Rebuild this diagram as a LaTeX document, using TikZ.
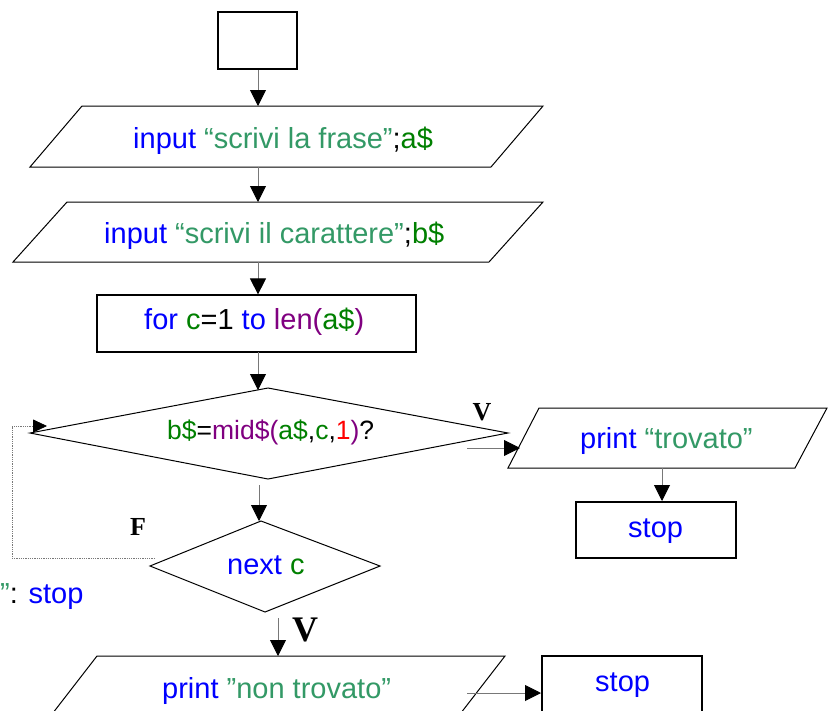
\documentclass[tikz,border=0pt]{standalone}
\usepackage{fontspec}
\setmainfont{Liberation Sans}
\newfontfamily\labelserif{Liberation Serif}
\usetikzlibrary{arrows.meta}

\definecolor{kwblue}{RGB}{0,0,255}
\definecolor{vargreen}{RGB}{0,128,0}
\definecolor{strgreen}{RGB}{51,153,102}
\definecolor{fnpurple}{RGB}{128,0,128}
\definecolor{numred}{RGB}{255,0,0}
\definecolor{linkgray}{RGB}{120,120,120}

\newcommand{\kw}[1]{\textcolor{kwblue}{#1}}
\newcommand{\vr}[1]{\textcolor{vargreen}{#1}}
\newcommand{\st}[1]{\textcolor{strgreen}{#1}}
\newcommand{\fn}[1]{\textcolor{fnpurple}{#1}}
\newcommand{\nm}[1]{\textcolor{numred}{#1}}

\begin{document}
\begin{tikzpicture}[x=1pt,y=-1pt,
  outline/.style={draw=black,line width=1pt,line join=miter},
  boxline/.style={draw=black,line width=2pt,inner sep=0pt},
  flow/.style={draw=linkgray,line width=0.9pt,
    -{Triangle[length=16pt,width=16pt,color=black]}},
  backflow/.style={draw=linkgray,line width=0.8pt,densely dotted,
    -{Triangle[length=14pt,width=13pt,color=black]}},
  code/.style={inner sep=0pt,anchor=base west,font=\fontsize{29}{34}\selectfont},
  condcode/.style={code,font=\fontsize{26.5}{32}\selectfont},
  branch/.style={inner sep=0pt,font=\labelserif\bfseries\fontsize{26}{30}\selectfont},
  bigbranch/.style={branch,font=\labelserif\bfseries\fontsize{36}{40}\selectfont}]

% page frame (also cuts off the shapes running past the lower edge)
\clip (0,0) rectangle (835,710);
\fill[white] (0,0) rectangle (835,710);

% ---- empty start box
\node[boxline,minimum width=79pt,minimum height=57pt] (start) at (257.5,40.5) {};

% ---- first input
\draw[outline] (82,106) -- (543,106) -- (491,167) -- (30,167) -- cycle;
\coordinate (in1N) at (258,106);
\coordinate (in1S) at (258,167);
\node[code] (in1txt) at (133,148)
  {\kw{input} \st{“scrivi la frase”};\vr{a\$}};

% ---- second input
\draw[outline] (67,202) -- (543,202) -- (489,262) -- (13,262) -- cycle;
\coordinate (in2N) at (258,202);
\coordinate (in2S) at (258,262);
\node[code] (in2txt) at (104,243)
  {\kw{input} \st{“scrivi il carattere”};\vr{b\$}};

% ---- for loop header
\node[boxline,line width=1.2pt,minimum width=319pt,minimum height=57pt] (forbox) at (256.5,323.5) {};
\coordinate (forS) at (258,352);
\node[code] (fortxt) at (144,329)
  {\kw{for} \vr{c}=1 \kw{to} \fn{len(}\vr{a\$}\fn{)}};

% ---- test
\draw[outline] (30,433) -- (268,388) -- (508,433) -- (268,479) -- cycle;
\coordinate (testN) at (258,390);
\coordinate (testS) at (259,485);
\coordinate (testE) at (467,448);
\coordinate (testW) at (47,426);
\node[condcode] (testtxt) at (167,439)
  {\vr{b\$}=\fn{mid\$(}\vr{a\$},\vr{c},\nm{1}\fn{)}?};

% ---- next c
\draw[outline] (150,566) -- (261,521) -- (380,566) -- (265,612) -- cycle;
\coordinate (nextN) at (259,521);
\coordinate (nextW) at (155,558);
\coordinate (nextS) at (278,618);
\coordinate (loopcorner) at (12,558);
\node[code] (nexttxt) at (227,574) {\kw{next} \vr{c}};

% ---- found branch
\draw[outline] (539,408) -- (827,408) -- (795,468) -- (508,468) -- cycle;
\coordinate (foundW) at (520,448);
\coordinate (foundS) at (662,468);
\node[code] (foundtxt) at (580,448) {\kw{print} \st{“trovato”}};
\node[boxline,minimum width=160pt,minimum height=56pt] (stopA) at (656,530) {};
\node[code] (stopAtxt) at (628,537) {\kw{stop}};

% ---- stray line of text on the left
\node[code] (strayTxt) at (0,603) {\st{”}: \kw{stop}};

% ---- not-found branch
\draw[outline] (97,656) -- (505,656) -- (440,740) -- (32,740) -- cycle;
\coordinate (notN) at (278,656);
\coordinate (notE) at (467,693);
\node[code] (nottxt) at (162,698) {\kw{print} \st{”non trovato”}};
\node[boxline,minimum width=160pt,minimum height=110pt] (stopB) at (622,711) {};
\coordinate (stopBW) at (541,693);
\node[code] (stopBtxt) at (595,691) {\kw{stop}};

% ---- branch labels
\node[branch] (lblV) at (482,412) {V};
\node[branch] (lblF) at (138,527) {F};
\node[bigbranch] (lblV2) at (305,630) {V};

% ---- connectors
\draw[flow] (in1N |- start.south) -- (in1N);
\draw[flow] (in1S) -- (in2N);
\draw[flow] (in2S) -- (in2S |- forbox.north);
\draw[flow] (forS) -- (testN);
\draw[flow] (testS) -- (nextN);
\draw[flow] (testE) -- (foundW);
\draw[flow] (foundS) -- (foundS |- stopA.north);
\draw[backflow] (nextW) -- (loopcorner) |- (testW);
\draw[flow] (nextS) -- (notN);
\draw[flow] (notE) -- (stopBW);
\end{tikzpicture}
\end{document}
